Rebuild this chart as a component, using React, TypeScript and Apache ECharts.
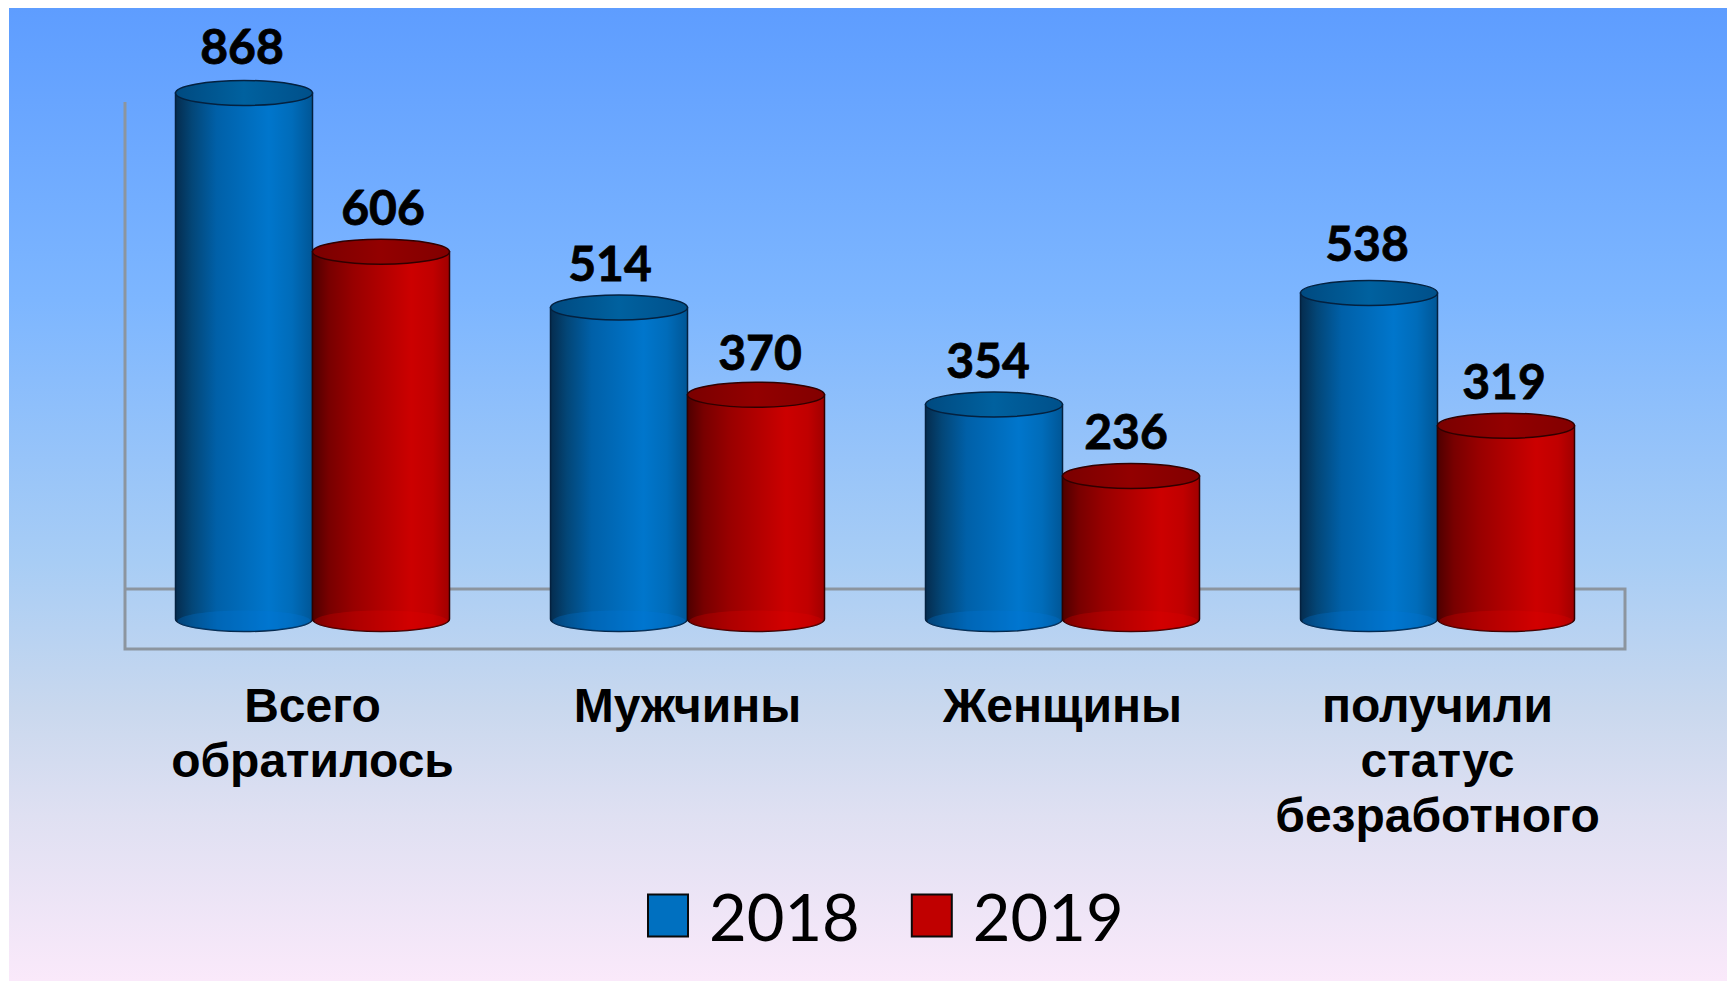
import React, { useEffect, useRef } from "react";
import * as echarts from "echarts";

const categories = ["Всего\nобратилось", "Мужчины", "Женщины", "получили\nстатус\nбезработного"];
const values2018 = [868, 514, 354, 538];
const values2019 = [606, 370, 236, 319];
const labelNudgeX2018 = [-2, -9, -6, -2];
const labelNudgeX2019 = [2, 4, -5, -2];
const labelNudgeY2018 = [-1, 1, 1, -4];
const labelNudgeY2019 = [1, 3, 1, 1];

const W = 1727;
const H = 981;
const BAR_W = 137;
const RY = 12.5;

type Tone = { side: [number, string][]; top: [number, string][]; base: string; line: string };
const blueTone: Tone = {
  side: [[0, "#052c4e"], [0.12, "#034677"], [0.3, "#0060a8"], [0.68, "#0076cc"], [0.85, "#006cba"], [1, "#005696"]],
  top: [[0, "#004a80"], [0.5, "#00619f"], [1, "#00508a"]],
  base: "rgba(0,120,220,0.28)",
  line: "#04213f",
};
const redTone: Tone = {
  side: [[0, "#4e0000"], [0.12, "#780000"], [0.3, "#980000"], [0.72, "#cc0000"], [0.88, "#c00000"], [1, "#a00000"]],
  top: [[0, "#7a0000"], [0.5, "#930000"], [1, "#820000"]],
  base: "rgba(225,0,0,0.28)",
  line: "#300000",
};

function grad(stops: [number, string][]) {
  return new echarts.graphic.LinearGradient(0, 0, 1, 0, stops.map(([offset, color]) => ({ offset, color })));
}

function cylinder(side: number, tone: Tone, nudgeX: number[], nudgeY: number[]) {
  return (_params: any, api: any) => {
    const idx = api.value(0);
    const val = api.value(1);
    const top = api.coord([idx, val]);
    const bot = api.coord([idx, 0]);
    const cx = top[0] + side * (BAR_W / 2);
    const rx = BAR_W / 2;
    const x0 = cx - rx;
    const x1 = cx + rx;
    const d = `M${x0} ${top[1]}L${x0} ${bot[1]}A${rx} ${RY} 0 0 0 ${x1} ${bot[1]}L${x1} ${top[1]}Z`;
    return {
      type: "group",
      children: [
        {
          type: "path",
          shape: { pathData: d, x: x0, y: top[1], width: BAR_W, height: bot[1] - top[1] + RY, layout: "center" },
          style: { fill: grad(tone.side), stroke: tone.line, lineWidth: 1.5 },
        },
        {
          type: "ellipse",
          shape: { cx, cy: bot[1] + 2, rx: rx - 2, ry: RY - 2 },
          style: { fill: tone.base, stroke: "none" },
        },
        {
          type: "ellipse",
          shape: { cx, cy: top[1], rx, ry: RY },
          style: { fill: grad(tone.top), stroke: tone.line, lineWidth: 1.5 },
        },
        {
          type: "text",
          style: {
            text: String(val),
            x: cx + nudgeX[idx],
            y: top[1] - 46 + nudgeY[idx],
            align: "center",
            verticalAlign: "middle",
            fill: "#000",
            stroke: "#000",
            lineWidth: 0.8,
            font: 'bold 48px Lato, "Open Sans", sans-serif',
          },
        },
      ],
    };
  };
}

export default function App() {
  const ref = useRef<HTMLDivElement>(null);
  useEffect(() => {
    document.body.style.margin = "0";
    const chart = echarts.init(ref.current!, undefined, { renderer: "svg" });
    const wall = { stroke: "#8c959f", lineWidth: 3, fill: "none" };
    chart.setOption({
      animation: false,
      backgroundColor: "#fff",
      graphic: [
        {
          type: "rect",
          z: -10,
          shape: { x: 9, y: 8, width: W - 9, height: H - 8 },
          style: {
            fill: new echarts.graphic.LinearGradient(0, 0, 0, 1, [
              { offset: 0, color: "#5e9dff" },
              { offset: 0.3, color: "#7db6ff" },
              { offset: 0.57, color: "#a8cdf5" },
              { offset: 0.72, color: "#c9d8ee" },
              { offset: 0.83, color: "#dfe0f2" },
              { offset: 1, color: "#fae9fa" },
            ]),
          },
        },
        { type: "polyline", z: -5, shape: { points: [[125, 102], [125, 649], [1625, 649], [1625, 589], [125, 589]] }, style: wall },
      ],
      grid: { left: 125, width: 1500, top: 73.6, height: 545.4, containLabel: false },
      xAxis: {
        type: "category",
        data: categories,
        axisLine: { show: false },
        axisTick: { show: false },
        axisLabel: {
          interval: 0,
          margin: 59,
          color: "#000",
          fontFamily: '"Liberation Sans", Arial, sans-serif',
          fontWeight: "bold",
          fontSize: 48,
          lineHeight: 55,
          verticalAlign: "top",
        },
      },
      yAxis: { type: "value", min: 0, max: 900, show: false, splitLine: { show: false } },
      legend: {
        left: 642,
        top: 878,
        itemWidth: 40,
        itemHeight: 42,
        itemGap: 51,
        icon: "rect",
        data: ["2018", "2019"],
        textStyle: { fontFamily: "Lato, sans-serif", fontSize: 65, color: "#000", padding: [0, 0, 6, 16] },
      },
      series: [
        {
          name: "2018",
          type: "custom",
          renderItem: cylinder(-1, blueTone, labelNudgeX2018, labelNudgeY2018),
          data: values2018.map((v, i) => [i, v]),
          encode: { x: 0, y: 1 },
          itemStyle: { color: "#0070c0", borderColor: "#0a0a0a", borderWidth: 2 },
        },
        {
          name: "2019",
          type: "custom",
          renderItem: cylinder(1, redTone, labelNudgeX2019, labelNudgeY2019),
          data: values2019.map((v, i) => [i, v]),
          encode: { x: 0, y: 1 },
          itemStyle: { color: "#c00000", borderColor: "#0a0a0a", borderWidth: 2 },
        },
      ],
    });
    return () => chart.dispose();
  }, []);
  return <div ref={ref} style={{ position: "absolute", left: 0, top: 0, width: W, height: H }} />;
}
